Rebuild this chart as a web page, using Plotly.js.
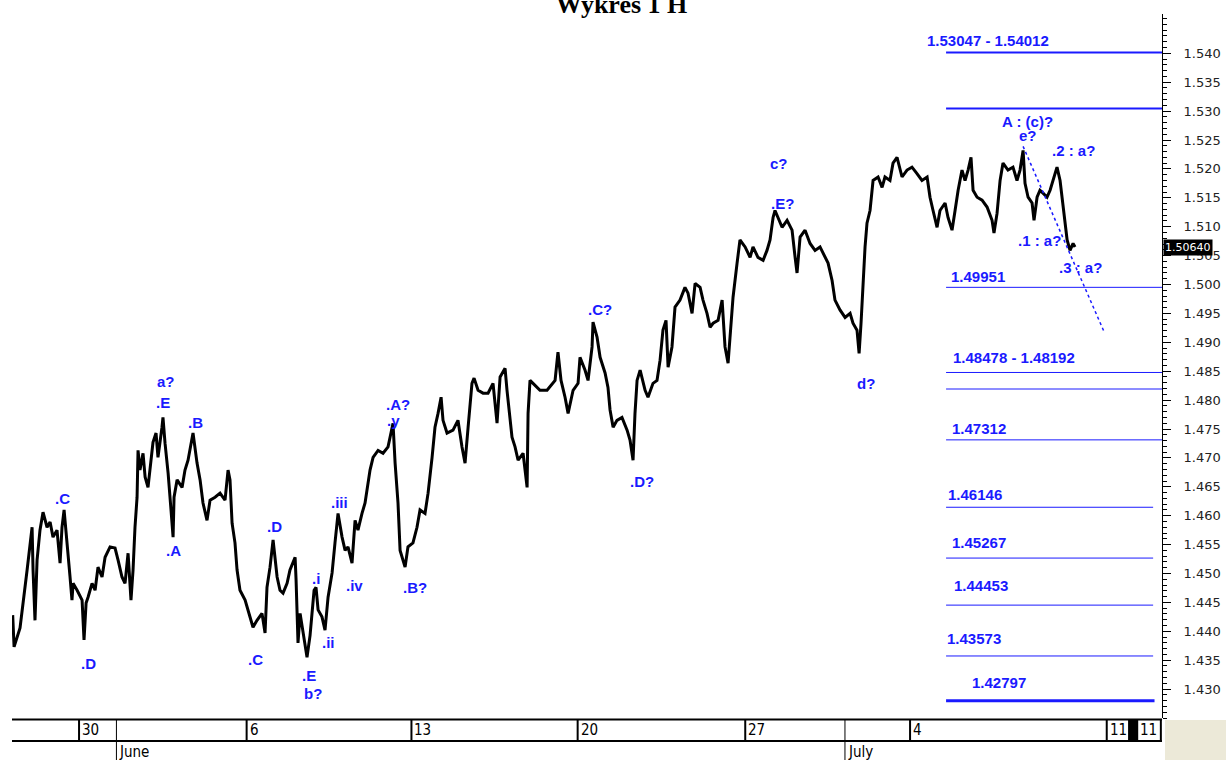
<!DOCTYPE html>
<html><head><meta charset="utf-8">
<script src="https://cdn.plot.ly/plotly-3.0.1.min.js"></script>
<style>html,body{margin:0;padding:0;background:#fff;overflow:hidden}#chart{width:1226px;height:760px}</style>
</head><body><div id="chart"></div>
<script>
// Hourly bars, hour index counted from the Sunday 30 May session open (weekends skipped)
const hourIndex = [-47.9,-46.9,-42.6,-39.0,-37.5,-33.9,-33.2,-31.8,-30.3,-28.2,-26.0,-23.1,-20.9,-18.8,-15.9,-13.7,-12.3,-10.8,-9.4,-7.9,-6.5,-5.1,-4.3,-1.4,2.2,3.6,5.1,6.5,9.4,11.6,13.7,16.6,18.8,22.4,26.0,28.2,31.0,33.2,35.4,37.5,39.0,40.4,41.9,42.6,44.0,46.2,47.7,49.8,52.7,53.4,55.6,57.0,59.9,60.6,62.1,64.3,66.4,67.9,68.6,70.8,74.4,76.5,78.7,81.6,82.3,85.2,87.4,89.5,92.4,94.6,98.2,101.8,105.4,107.6,109.0,110.5,112.6,114.1,116.2,119.9,123.5,125.6,128.5,132.1,134.3,135.7,137.9,140.1,143.0,145.1,147.3,150.2,152.3,156.0,156.7,158.1,159.6,161.7,164.6,166.8,168.2,169.7,171.1,172.6,175.4,177.6,179.8,182.7,184.8,187.0,189.9,192.1,194.2,197.1,199.3,201.4,204.3,206.5,210.1,212.3,215.9,219.5,223.1,226.7,228.2,230.3,231.8,233.9,235.4,237.5,241.1,244.0,246.2,249.8,252.0,254.9,257.0,259.2,261.4,262.8,265.7,270.0,273.6,276.5,278.7,280.9,283.7,285.2,288.1,291.7,295.3,298.9,301.8,304.0,307.6,309.0,312.6,314.8,317.0,320.6,323.5,324.2,325.6,327.8,332.8,337.9,343.7,345.8,348.0,350.9,353.1,356.7,360.3,361.7,365.3,367.5,370.4,371.1,374.0,376.2,379.8,381.9,383.4,385.6,388.4,392.0,395.7,397.8,400.0,401.4,402.9,405.1,408.7,410.8,414.4,417.3,419.5,421.6,423.8,425.3,428.1,430.3,433.9,437.5,439.7,442.6,444.8,448.4,450.5,453.4,455.6,457.8,461.4,464.3,466.4,468.6,470.0,472.2,475.1,477.2,480.9,484.5,486.6,490.2,493.9,496.7,498.9,501.1,502.5,504.7,507.6,511.2,514.8,517.0,518.4,520.6,524.2,527.8,531.4,535.0,538.6,540.8,543.7,545.8,549.4,553.1,556.7,558.8,561.7,563.2,564.6,566.0,567.5,568.9,571.1,573.3,576.9,579.8,581.9,585.5,587.7,590.6,594.2,597.8,601.4,605.0,608.6,612.3,614.4,616.6,619.5,621.6,625.3,627.4,630.3,632.5,634.7,637.5,639.7,641.9,644.0,645.5,648.4,652.0,655.6,659.2,660.6,662.8,665.0,667.1,670.7,674.3,677.2,679.4,681.6,683.0,685.2,688.1,689.5,691.7,693.8,696.0,698.9,701.1,703.2,706.1,708.3,710.5,711.9,713.4,715.5,717.7,719.1];
const price = [1.4428,1.4373,1.4406,1.4471,1.4506,1.4580,1.4506,1.4419,1.4523,1.4575,1.4606,1.4580,1.4589,1.4563,1.4575,1.4518,1.4580,1.4610,1.4575,1.4540,1.4494,1.4454,1.4483,1.4471,1.4454,1.4385,1.4449,1.4459,1.4483,1.4471,1.4511,1.4494,1.4528,1.4546,1.4544,1.4523,1.4494,1.4483,1.4535,1.4454,1.4506,1.4580,1.4632,1.4713,1.4679,1.4708,1.4667,1.4649,1.4708,1.4727,1.4743,1.4701,1.4753,1.4770,1.4725,1.4674,1.4610,1.4563,1.4632,1.4662,1.4649,1.4679,1.4696,1.4736,1.4743,1.4691,1.4662,1.4622,1.4592,1.4627,1.4632,1.4639,1.4627,1.4679,1.4662,1.4587,1.4553,1.4506,1.4471,1.4454,1.4425,1.4407,1.4419,1.4431,1.4397,1.4476,1.4511,1.4558,1.4494,1.4471,1.4466,1.4483,1.4506,1.4528,1.4489,1.4380,1.4431,1.4402,1.4355,1.4393,1.4437,1.4471,1.4476,1.4437,1.4425,1.4402,1.4459,1.4501,1.4553,1.4604,1.4563,1.4540,1.4546,1.4518,1.4592,1.4575,1.4604,1.4622,1.4679,1.4701,1.4713,1.4708,1.4719,1.4760,1.4691,1.4622,1.4540,1.4523,1.4511,1.4546,1.4553,1.4580,1.4610,1.4604,1.4639,1.4701,1.4753,1.4777,1.4805,1.4765,1.4743,1.4748,1.4765,1.4719,1.4691,1.4753,1.4829,1.4838,1.4817,1.4812,1.4812,1.4829,1.4760,1.4840,1.4855,1.4817,1.4736,1.4719,1.4696,1.4708,1.4649,1.4777,1.4834,1.4829,1.4817,1.4817,1.4834,1.4883,1.4834,1.4805,1.4777,1.4817,1.4829,1.4874,1.4852,1.4834,1.4892,1.4935,1.4909,1.4874,1.4847,1.4822,1.4783,1.4753,1.4765,1.4770,1.4748,1.4731,1.4696,1.4777,1.4834,1.4852,1.4817,1.4805,1.4829,1.4834,1.4869,1.4921,1.4938,1.4857,1.4892,1.4961,1.4973,1.4995,1.4985,1.4950,1.5002,1.4995,1.4973,1.4950,1.4926,1.4933,1.4938,1.4973,1.4892,1.4864,1.4909,1.4978,1.5037,1.5077,1.5065,1.5047,1.5065,1.5047,1.5042,1.5059,1.5077,1.5116,1.5128,1.5116,1.5099,1.5111,1.5094,1.5047,1.5020,1.5082,1.5094,1.5071,1.5059,1.5065,1.5047,1.5037,1.5007,1.4973,1.4956,1.4943,1.4950,1.4933,1.4921,1.4881,1.4933,1.5007,1.5065,1.5106,1.5128,1.5180,1.5186,1.5168,1.5186,1.5180,1.5210,1.5220,1.5186,1.5198,1.5203,1.5192,1.5180,1.5186,1.5151,1.5128,1.5099,1.5128,1.5141,1.5116,1.5094,1.5128,1.5163,1.5198,1.5180,1.5198,1.5220,1.5163,1.5151,1.5146,1.5134,1.5111,1.5089,1.5123,1.5180,1.5210,1.5198,1.5203,1.5180,1.5198,1.5232,1.5175,1.5151,1.5141,1.5111,1.5151,1.5163,1.5158,1.5151,1.5163,1.5180,1.5203,1.5180,1.5134,1.5106,1.5077,1.5059,1.5071,1.5065];
const lastPrice = 1.50640;

// Price axis labels
const yTickValues = [1.430,1.435,1.440,1.445,1.450,1.455,1.460,1.465,1.470,1.475,1.480,1.485,1.490,1.495,1.500,1.505,1.510,1.515,1.520,1.525,1.530,1.535,1.540];

// Target levels
const levelValues = [1.54012,1.53047,1.49951,1.48478,1.48192,1.47312,1.46146,1.45267,1.44453,1.43573,1.42797];
const levelStartHour = 626;
const levelEndHour = [782,782,782,782,782,782,775.5,775.5,775.5,775.5,776.5];
const levelLabels = ['1.53047 - 1.54012','1.49951','1.48478 - 1.48192','1.47312','1.46146','1.45267','1.44453','1.43573','1.42797'];
const levelLabelHour = [610.9,628.2,629.6,628.9,626.0,628.9,630.3,625.3,643.0];
const levelLabelPrice = [1.5422,1.5013,1.4874,1.4751,1.4636,1.4553,1.4480,1.4388,1.4312];

// Wave count labels
const waveLabels = ['.C','.D','a?','.E','.B','.A','.C','.D','.E','b?','.i','.ii','.iii','.iv','.A?','.y','.B?','.C?','.D?','c?','.E?','d?','A : (c)?','e?','.2 : a?','.1 : a?','.3 : a?'];
const waveLabelHour = [-12.3,6.5,62.8,60.6,83.8,67.9,127.1,140.8,166.1,168.9,171.1,179.8,188.4,198.6,230.3,226.7,242.6,376.2,406.5,505.4,507.6,568.2,684.5,685.2,717.7,693.8,722.7];
const waveLabelPrice = [1.4629,1.4345,1.4833,1.4796,1.4762,1.4540,1.4352,1.4582,1.4324,1.4293,1.4492,1.4381,1.4623,1.4480,1.4793,1.4764,1.4476,1.4956,1.4660,1.5210,1.5141,1.4828,1.5282,1.5258,1.5232,1.5077,1.5030];

// Dotted trend line
const trendHour = [681.6, 740.1];
const trendPrice = [1.5239, 1.4918];

// Time scale
const weekTickHour = [0,121,240,360,481,600,742,764];
const weekTickLabel = ['30','6','13','20','27','4','11','11'];
const monthStartHour = [27,553];
const monthLabel = ['June','July'];
const markerBox = [757.4, 763.9];

const BLUE = '#1a1aff';
const X0 = -48.4, X1 = 781.9;
const stripTop = -0.0021, stripBot = -0.0327, pageBot = -0.0597;

const traces = [];
traces.push({x:hourIndex, y:price, type:'scatter', mode:'lines', line:{color:'#000', width:3}, hoverinfo:'skip'});
const lw = [2,2,1,1,1,1,1,1,1,1,3];
levelValues.forEach((v,i)=>{
  traces.push({x:[levelStartHour, levelEndHour[i]], y:[v,v], type:'scatter', mode:'lines', line:{color:BLUE, width:lw[i]}, hoverinfo:'skip'});
});
traces.push({x:trendHour, y:trendPrice, type:'scatter', mode:'lines', line:{color:BLUE, width:1.5, dash:'dot'}, hoverinfo:'skip'});

const labFont = {family:'Liberation Sans, Arial, sans-serif', size:15, color:BLUE, weight:'bold'};
const annotations = [];
waveLabels.forEach((t,i)=>annotations.push({x:waveLabelHour[i], y:waveLabelPrice[i], text:t, showarrow:false, xanchor:'center', yanchor:'middle', font:labFont}));
levelLabels.forEach((t,i)=>annotations.push({x:levelLabelHour[i], y:levelLabelPrice[i], text:t, showarrow:false, xanchor:'left', yanchor:'middle', font:labFont}));
const dateFont = {family:'Liberation Sans Narrow, DejaVu Sans Condensed, Liberation Sans, sans-serif', size:15, color:'#000'};
weekTickHour.forEach((h,i)=>annotations.push({x:h, xref:'x', y:(stripTop+stripBot)/2, yref:'paper', text:weekTickLabel[i], showarrow:false, xanchor:'left', yanchor:'middle', xshift:1, font:dateFont}));
monthStartHour.forEach((h,i)=>annotations.push({x:h, xref:'x', y:-0.0485, yref:'paper', text:monthLabel[i], showarrow:false, xanchor:'left', yanchor:'middle', xshift:1, font:dateFont}));
annotations.push({x:1, xref:'paper', y:lastPrice, yref:'y', text:lastPrice.toFixed(5), showarrow:false, xanchor:'left', yanchor:'middle', xshift:1, bgcolor:'#000', borderpad:1, font:{family:'DejaVu Sans, sans-serif', size:11, color:'#fff'}});

const shapes = [];
shapes.push({type:'line', xref:'x', yref:'paper', x0:X0, x1:X1, y0:stripTop, y1:stripTop, line:{color:'#000', width:2}});
shapes.push({type:'line', xref:'x', yref:'paper', x0:X0, x1:X1, y0:stripBot, y1:stripBot, line:{color:'#000', width:2}});
shapes.push({type:'line', xref:'paper', yref:'paper', x0:0.999, x1:0.999, y0:stripTop, y1:stripBot, line:{color:'#000', width:2}});
weekTickHour.forEach(h=>shapes.push({type:'line', xref:'x', yref:'paper', x0:h, x1:h, y0:stripTop, y1:stripBot, line:{color:'#000', width:2}}));
monthStartHour.forEach(h=>shapes.push({type:'line', xref:'x', yref:'paper', x0:h, x1:h, y0:stripTop, y1:pageBot, line:{color:'#000', width:1}}));
shapes.push({type:'rect', xref:'x', yref:'paper', x0:markerBox[0], x1:markerBox[1], y0:stripBot, y1:stripTop, fillcolor:'#000', line:{width:0}});
shapes.push({type:'rect', xref:'paper', yref:'paper', x0:1.0026, x1:1.06, y0:-0.07, y1:-0.0028, fillcolor:'#ECE9D8', line:{width:0}});

const layout = {
  width:1226, height:760,
  margin:{l:12, r:64, t:14, b:42, pad:0},
  paper_bgcolor:'#fff', plot_bgcolor:'#fff', showlegend:false, hovermode:false,
  title:{text:'Wykres 1 H', font:{family:'Liberation Serif, Times New Roman, serif', size:26, color:'#000', weight:'bold'}, x:0.507, xref:'container', xanchor:'center', y:0.995, yref:'container', yanchor:'middle'},
  xaxis:{range:[X0,X1], showgrid:false, zeroline:false, showticklabels:false, ticks:'', showline:false, fixedrange:true},
  yaxis:{side:'right', range:[1.425,1.5468], tickmode:'array', tickvals:yTickValues, ticktext:yTickValues.map(v=>v.toFixed(3)), ticks:'outside', ticklen:8, tickwidth:1, tickcolor:'#000',
    showline:true, linecolor:'#000', linewidth:1, showgrid:false, zeroline:false, ticklabelstandoff:10,
    tickfont:{family:'DejaVu Sans, sans-serif', size:13, color:'#222'},
    minor:{tick0:1.425, dtick:0.001, ticks:'outside', ticklen:4, tickwidth:1, tickcolor:'#000', showgrid:false}},
  shapes:shapes, annotations:annotations
};
Plotly.newPlot('chart', traces, layout, {staticPlot:true, displayModeBar:false});
</script></body></html>
